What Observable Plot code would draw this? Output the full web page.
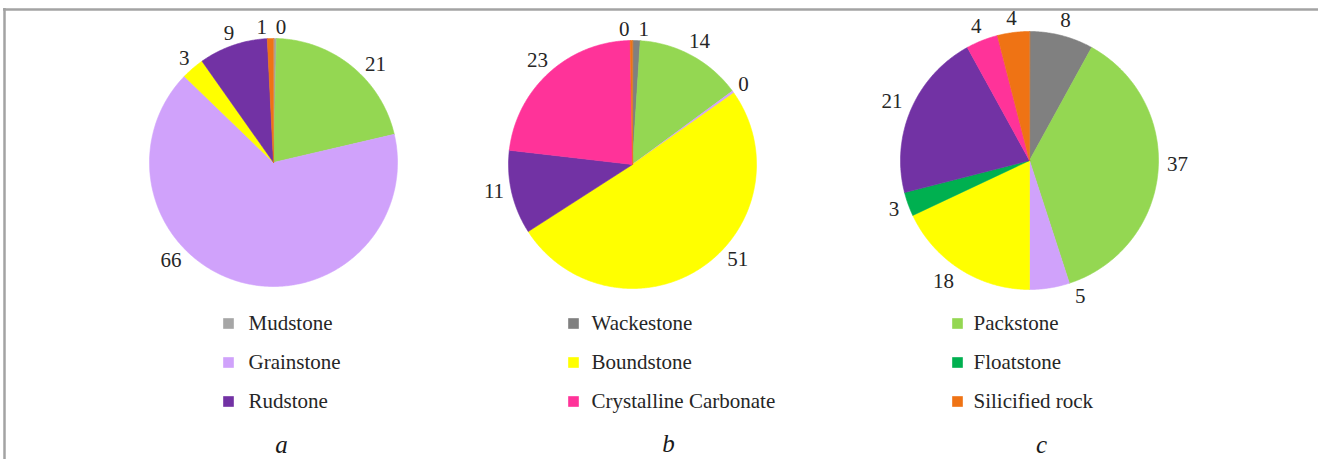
<!DOCTYPE html>
<html><head><meta charset="utf-8">
<script src="https://cdn.jsdelivr.net/npm/d3@7"></script>
<script src="https://cdn.jsdelivr.net/npm/@observablehq/plot@0.6"></script>
<style>
html,body{margin:0;padding:0;background:#fff;}
#chart{width:1318px;height:459px;overflow:hidden;}
</style></head><body><div id="chart"></div>
<script>
// ---------- data ----------
const categories = ["Mudstone","Wackestone","Packstone","Grainstone","Boundstone","Floatstone","Rudstone","Crystalline Carbonate","Silicified rock"];
const colors = ["#a6a6a6","#808080","#94d752","#d0a2fb","#ffff00","#00b050","#7232a4","#ff3399","#ef7314"];
const chartNames = ["a","b","c"];
// percentages per chart, in category order (null = category not present)
const valuesA = [0.4, null, 21, 66, 3, null, 9, null, 0.8];
const valuesB = [null, 1, 14, 0.3, 51, null, 11, 23, 0.3];
const valuesC = [null, 8, 37, 5, 18, 3, 21, 4, 4];

// ---------- layout (pixels / degrees) ----------
const W = 1318, H = 459;
const pieCenters = [[273,162],[632,164],[1029,160]];
const pieRadius = [124,124,129];
const labelShift = [ // degrees added to a slice's mid-angle for its value label
  [2.5,0,7,31,0,0,0,0,-3.5],
  [0,3,0,0,-14,0,2,0,-3],
  [0,0,-4,-11.5,3,0,0,0,0]
];
const labelGap = [4,4,7];
const legendColX = [228,573,957], legendTextX = [248,591,973], legendRowY = [323,362,401];
const captionPos = [[281,444],[668,443],[1041,444]];
const serif = "'Liberation Serif','Times New Roman',serif";

// ---------- build slices ----------
const allValues = [valuesA, valuesB, valuesC];
const slicePts = [], labels = [];
allValues.forEach((vals, ci) => {
  const items = categories.map((c,i)=>({cat:c, i, v: vals[i]})).filter(d => d.v != null);
  const arcs = d3.pie().sort(null).value(d=>d.v)(items);
  const [cx,cy] = pieCenters[ci], r = pieRadius[ci];
  arcs.forEach(a => {
    const key = chartNames[ci] + "-" + a.data.cat;
    slicePts.push({key, cat:a.data.cat, x:cx, y:cy});
    const n = Math.max(2, Math.ceil((a.endAngle - a.startAngle) / (Math.PI/360)));
    for (let k=0;k<=n;k++){
      const t = a.startAngle + (a.endAngle - a.startAngle)*k/n;
      slicePts.push({key, cat:a.data.cat, x:cx + r*Math.sin(t), y:cy - r*Math.cos(t)});
    }
    const txt = String(Math.round(a.data.v));
    const th = (a.startAngle + a.endAngle)/2 + labelShift[ci][a.data.i]*Math.PI/180;
    const ux = Math.sin(th), uy = -Math.cos(th);
    const w = 12*txt.length, h = 14;
    const dist = r + labelGap[ci] + Math.abs(ux)*w/2 + Math.abs(uy)*h/2;
    labels.push({x: cx + dist*ux, y: cy + dist*uy, text: txt});
  });
});
const legend = categories.map((c,i)=>({cat:c, col:i%3, row:Math.floor(i/3)}));
const captions = chartNames.map((n,i)=>({text:n, x:captionPos[i][0], y:captionPos[i][1]}));

const plot = Plot.plot({
  width: W, height: H,
  margin: 0,
  x: {domain:[0,W], range:[0,W], axis:null},
  y: {domain:[0,H], range:[0,H], axis:null},
  color: {domain: categories, range: colors},
  style: {fontFamily: serif, background:"#fff"},
  marks: [
    Plot.ruleY([9], {x1:3, x2:W, stroke:"#a3a3a3", strokeWidth:2.5}),
    Plot.ruleX([4], {y1:8, y2:H, stroke:"#a3a3a3", strokeWidth:2.5}),
    Plot.line(slicePts, {x:"x", y:"y", z:"key", fill:"cat", stroke:"cat", strokeWidth:0.6, curve:"linear-closed"}),
    Plot.text(labels, {x:"x", y:"y", text:"text", fontSize:21, fill:"#262626", textAnchor:"middle", lineAnchor:"middle"}),
    Plot.dot(legend, {x:d=>legendColX[d.col], y:d=>legendRowY[d.row], fill:"cat", symbol:"square", r:6, stroke:null}),
    Plot.text(legend, {x:d=>legendTextX[d.col], y:d=>legendRowY[d.row], text:"cat", fontSize:21, fill:"#262626", textAnchor:"start", lineAnchor:"middle"}),
    Plot.text(captions, {x:"x", y:"y", text:"text", fontSize:25, fontStyle:"italic", fill:"#1a1a1a", textAnchor:"middle", lineAnchor:"middle"})
  ]
});
document.getElementById("chart").appendChild(plot);
</script>
</body></html>
